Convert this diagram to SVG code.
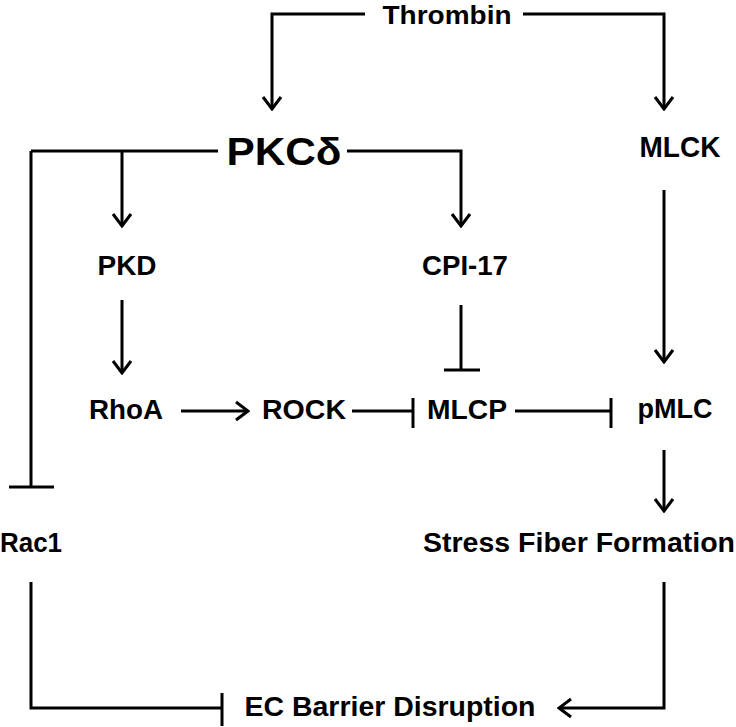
<svg xmlns="http://www.w3.org/2000/svg" width="736" height="727" viewBox="0 0 736 727">
<defs>
<style>
text{font-family:"Liberation Sans",Arial,sans-serif;font-weight:bold;fill:#000;text-anchor:middle}
.n{font-size:27px}
.t{font-size:26px}
.m{font-size:30px}
.big{font-size:39px}
.c{fill:none;stroke:#000;stroke-width:3}
</style>
<marker id="arr" markerUnits="userSpaceOnUse" viewBox="-14 -11 16 22" refX="0" refY="0" markerWidth="16" markerHeight="22" orient="auto">
<path d="M-12,-9 L0,0 L-12,9" fill="none" stroke="#000" stroke-width="3"/>
</marker>
</defs>
<rect width="736" height="727" fill="#fff"/>
<g id="connectors">
<polyline class="c" points="365,14 272,14 272,109" marker-end="url(#arr)"/>
<polyline class="c" points="523,14 664,14 664,109" marker-end="url(#arr)"/>
<line class="c" x1="218" y1="151" x2="31" y2="151"/>
<polyline class="c" points="122,151 122,226" marker-end="url(#arr)"/>
<polyline class="c" points="347,151 461,151 461,226" marker-end="url(#arr)"/>
<polyline class="c" points="31,151 31,487"/>
<line class="c" x1="9" y1="487" x2="54" y2="487"/>
<polyline class="c" points="122,300 122,373" marker-end="url(#arr)"/>
<line class="c" x1="461" y1="305" x2="461" y2="370"/>
<line class="c" x1="444" y1="370" x2="480" y2="370"/>
<polyline class="c" points="664,190 664,362" marker-end="url(#arr)"/>
<polyline class="c" points="181,411 248,411" marker-end="url(#arr)"/>
<line class="c" x1="352" y1="411" x2="413" y2="411"/>
<line class="c" x1="413" y1="398" x2="413" y2="428"/>
<line class="c" x1="515" y1="411" x2="611" y2="411"/>
<line class="c" x1="611" y1="398" x2="611" y2="428"/>
<polyline class="c" points="664,450 664,511" marker-end="url(#arr)"/>
<polyline class="c" points="31,582 31,708 222,708"/>
<line class="c" x1="222" y1="693" x2="222" y2="726"/>
<polyline class="c" points="664,582 664,708 559,708" marker-end="url(#arr)"/>
</g>
<g id="thrombin"><text class="t" x="447" y="24" textLength="129" lengthAdjust="spacingAndGlyphs">Thrombin</text></g>
<g id="pkcd"><text class="big" x="284" y="165" textLength="115" lengthAdjust="spacingAndGlyphs">PKCδ</text></g>
<g id="mlck"><text class="m" x="680" y="157" textLength="81" lengthAdjust="spacingAndGlyphs">MLCK</text></g>
<g id="pkd"><text class="n" x="127" y="275" textLength="59" lengthAdjust="spacingAndGlyphs">PKD</text></g>
<g id="cpi17"><text class="n" x="465" y="275" textLength="86" lengthAdjust="spacingAndGlyphs">CPI-17</text></g>
<g id="rhoa"><text class="n" x="126" y="419" textLength="74" lengthAdjust="spacingAndGlyphs">RhoA</text></g>
<g id="rock"><text class="n" x="304" y="419" textLength="84" lengthAdjust="spacingAndGlyphs">ROCK</text></g>
<g id="mlcp"><text class="n" x="467" y="419" textLength="80" lengthAdjust="spacingAndGlyphs">MLCP</text></g>
<g id="pmlc"><text class="n" x="675" y="418" textLength="75" lengthAdjust="spacingAndGlyphs">pMLC</text></g>
<g id="rac1"><text class="n" x="31" y="552" textLength="62" lengthAdjust="spacingAndGlyphs">Rac1</text></g>
<g id="sff"><text class="n" x="579" y="552" textLength="312" lengthAdjust="spacingAndGlyphs">Stress Fiber Formation</text></g>
<g id="ecbd"><text class="n" x="390" y="716" textLength="291" lengthAdjust="spacingAndGlyphs">EC Barrier Disruption</text></g>
</svg>
